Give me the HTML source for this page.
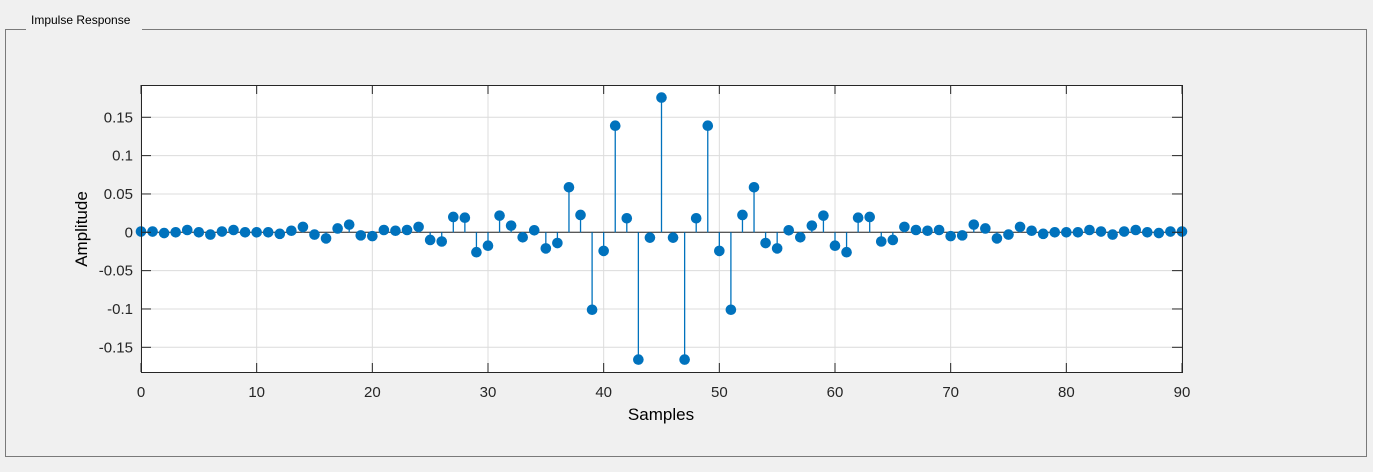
<!DOCTYPE html>
<html><head><meta charset="utf-8"><style>
body{margin:0;background:#f0f0f0;width:1373px;height:467px;overflow:hidden;font-family:"Liberation Sans",Arial,sans-serif}
</style></head><body>
<svg width="1373" height="467" xmlns="http://www.w3.org/2000/svg" font-family="Liberation Sans, Arial, sans-serif">
<rect x="0" y="0" width="1373" height="467" fill="#f0f0f0"/>
<rect x="5.5" y="29.5" width="1361" height="427" fill="none" stroke="#7a7a7a" stroke-width="1"/>
<rect x="26" y="22" width="116" height="12" fill="#f0f0f0"/>
<text x="31" y="24" font-size="12" fill="#000">Impulse Response</text>
<rect x="141" y="85" width="1041" height="287" fill="#fff"/>
<g id="grid"></g>
<g id="stems"></g>
<rect x="141.5" y="85.5" width="1041" height="287" fill="none" stroke="#262626" stroke-width="1"/>
<g id="ticks"></g>
<text x="661" y="420" font-size="17" text-anchor="middle" fill="#000">Samples</text>
<text transform="translate(87,229) rotate(-90)" font-size="17" text-anchor="middle" fill="#000">Amplitude</text>
</svg>
<script>
const xTicks=[0,10,20,30,40,50,60,70,80,90];
const yTicks=[-0.15,-0.1,-0.05,0,0.05,0.1,0.15];
const yTickLabels=["-0.15","-0.1","-0.05","0","0.05","0.1","0.15"];
const amplitudes=[0.001,0.001,-0.001,0.000,0.003,0.000,-0.003,0.001,0.003,0.000,-0.000,0.000,-0.002,0.002,0.007,-0.003,-0.008,0.005,0.010,-0.004,-0.005,0.003,0.002,0.003,0.007,-0.010,-0.012,0.020,0.019,-0.026,-0.0175,0.0217,0.0087,-0.0065,0.0026,-0.021,-0.014,0.0587,0.0226,-0.101,-0.0243,0.139,0.0183,-0.166,-0.007,0.1757,-0.007,-0.166,0.0183,0.139,-0.0243,-0.101,0.0226,0.0587,-0.014,-0.021,0.0026,-0.0065,0.0087,0.0217,-0.0175,-0.026,0.019,0.020,-0.012,-0.010,0.007,0.003,0.002,0.003,-0.005,-0.004,0.010,0.005,-0.008,-0.003,0.007,0.002,-0.002,0,0,0,0.003,0.001,-0.003,0.001,0.003,0,-0.001,0.001,0.001];
const NS="http://www.w3.org/2000/svg";
const X0=141,X1=1182,Y0=85,Y1=372,yMin=-0.1822,yMax=0.1921;
const xs=v=>X0+(v-0)/(90-0)*(X1-X0);
const ys=v=>Y1-(v-yMin)/(yMax-yMin)*(Y1-Y0);
function mk(tag,attrs,parent){const e=document.createElementNS(NS,tag);for(const k in attrs)e.setAttribute(k,attrs[k]);parent.appendChild(e);return e;}
const grid=document.getElementById('grid'),ticks=document.getElementById('ticks'),stems=document.getElementById('stems');
xTicks.forEach(t=>{const x=xs(t);
 const g=mk('line',{x1:x,x2:x,y1:Y0,y2:Y1,stroke:'#dcdcdc','stroke-width':1},grid);
 
 mk('line',{x1:x,x2:x,y1:Y1,y2:Y1-9,stroke:'#262626'},ticks);
 mk('line',{x1:x,x2:x,y1:Y0,y2:Y0+9,stroke:'#262626'},ticks);
 const l=mk('text',{x:x,y:Y1+25,'font-size':15,'text-anchor':'middle',fill:'#262626'},ticks);
 l.textContent=t;});
yTicks.forEach((t,i)=>{const y=ys(t);
 const g=mk('line',{x1:X0,x2:X1,y1:y,y2:y,stroke:'#dcdcdc','stroke-width':1},grid);
 
 mk('line',{x1:X0,x2:X0+10,y1:y,y2:y,stroke:'#262626'},ticks);
 mk('line',{x1:X1,x2:X1-10,y1:y,y2:y,stroke:'#262626'},ticks);
 const l=mk('text',{x:X0-8,y:y+5,'font-size':15,'text-anchor':'end',fill:'#262626'},ticks);
 l.textContent=yTickLabels[i];});
const z=mk('line',{x1:X0,x2:X1,y1:ys(0),y2:ys(0),stroke:'#262626','stroke-width':1},stems);

amplitudes.forEach((v,i)=>{const x=xs(i),y=ys(v);
 const s=mk('line',{x1:x,x2:x,y1:ys(0),y2:y,stroke:'#0072bd','stroke-width':1.3},stems);
 
 const c=mk('circle',{cx:x,cy:y,r:5.3,fill:'#0072bd'},stems);
 });
</script>
</body></html>
